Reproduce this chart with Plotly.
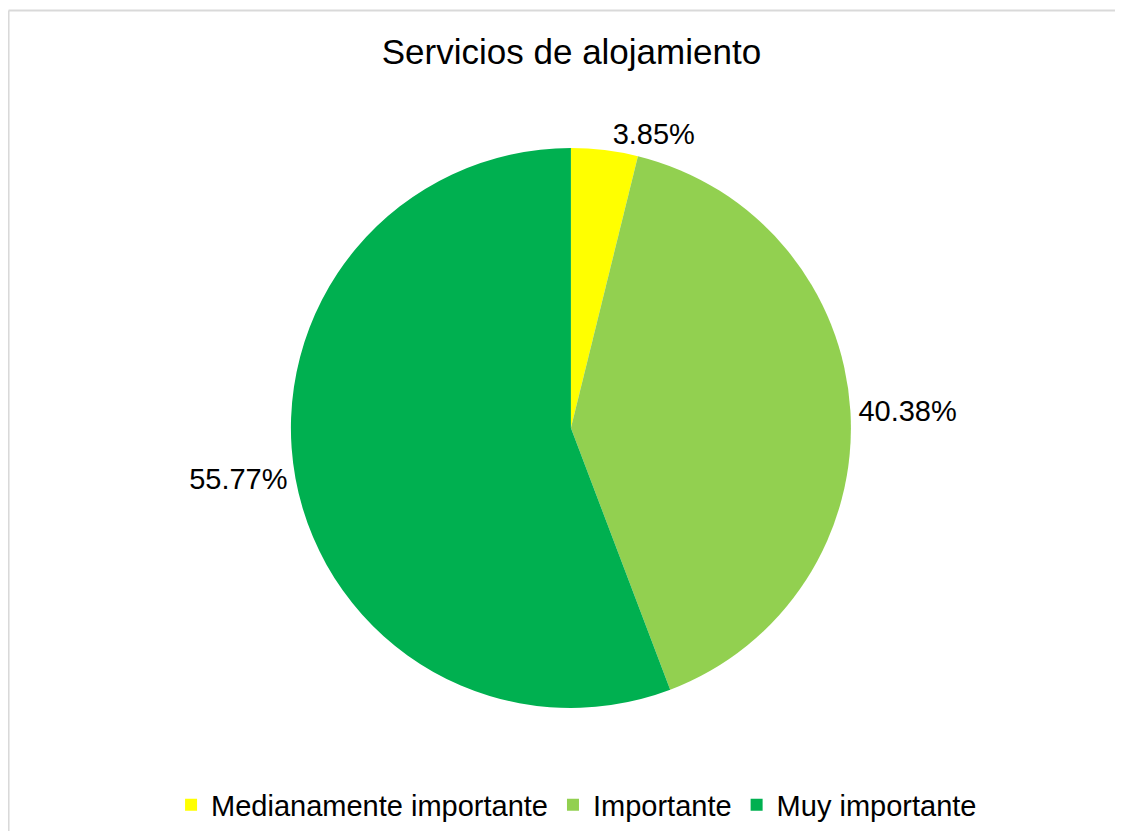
import plotly.graph_objects as go

# survey responses (52 total)
categorias = ["Medianamente importante", "Importante", "Muy importante"]
respuestas = [2, 21, 29]
colores = ["#FFFF00", "#92D050", "#00B050"]

fig = go.Figure(
    data=go.Pie(
        labels=categorias,
        values=respuestas,
        marker=dict(colors=colores, line=dict(width=0)),
        sort=False,
        direction="clockwise",
        rotation=0,
        textposition="outside",
        texttemplate="%{percent:.2%}",
        textfont=dict(family="Liberation Sans, Arial", size=29, color="black"),
        hoverinfo="label+percent",
        domain=dict(x=[0.017, 1.0], y=[0, 1]),
    )
)

# figure kept slightly smaller than the window so the page does not scroll
fig.update_layout(
    width=1107,
    height=823,
    margin=dict(l=0, r=0, t=140, b=123, autoexpand=False),
    paper_bgcolor="white",
    plot_bgcolor="white",
    font=dict(family="Liberation Sans, Arial", color="black"),
    title=dict(
        text="Servicios de alojamiento",
        x=0.509, xanchor="center",
        y=0.947, yanchor="middle",
        font=dict(size=35, color="black"),
    ),
    legend=dict(
        orientation="h",
        x=0.5136, xanchor="center",
        y=-0.173, yanchor="middle",
        font=dict(size=29, color="black"),
        itemclick=False,
    ),
    # light grey chart-area border: only top and left edges are visible
    shapes=[
        dict(type="line", xref="paper", yref="paper",
             x0=0.0005, x1=1.0, y0=1.2455, y1=1.2455,
             line=dict(color="#D9D9D9", width=2), layer="below"),
        dict(type="line", xref="paper", yref="paper",
             x0=0.0005, x1=0.0005, y0=-0.3, y1=1.2455,
             line=dict(color="#D9D9D9", width=2), layer="below"),
    ],
)

fig.write_html("out.html")
